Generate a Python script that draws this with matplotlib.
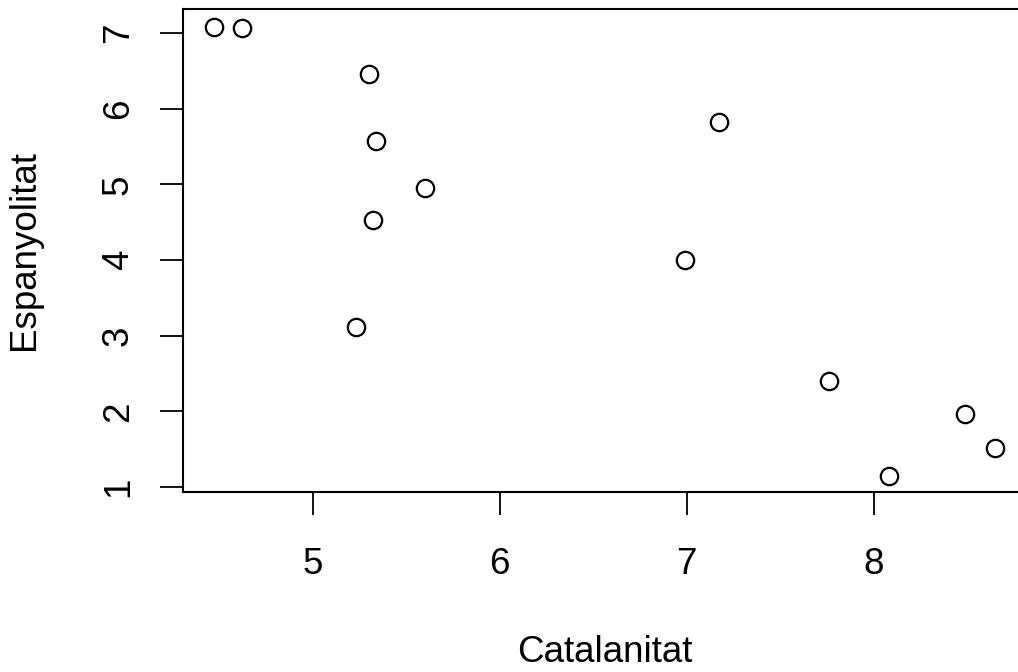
import numpy as np
import matplotlib.pyplot as plt

plt.rcParams['font.family'] = ['Liberation Sans', 'DejaVu Sans']

# values
catalanitat = [4.47, 4.62, 5.30, 5.34, 5.60, 5.32, 5.23, 7.17, 6.99, 7.76, 8.49, 8.65, 8.08]
espanyolitat = [7.08, 7.07, 6.46, 5.57, 4.95, 4.53, 3.11, 5.82, 4.00, 2.40, 1.97, 1.52, 1.15]
xticks = [5, 6, 7, 8]
yticks = [1, 2, 3, 4, 5, 6, 7]

fig = plt.figure(figsize=(10.18, 6.72), dpi=100)
# right edge of the box falls just past the image, like the reference
ax = fig.add_axes([183/1018, 1-492/672, 844/1018, 483/672])

ax.plot(catalanitat, espanyolitat, 'o', mfc='none', mec='black', ms=12.5, mew=1.6)

ax.set_xlim(4.305, 8.82)
ax.set_ylim(0.934, 7.317)
ax.set_xticks(xticks)
ax.set_yticks(yticks)
ax.set_yticklabels([str(v) for v in yticks], rotation=90, va='center')
ax.tick_params(direction='out', length=16.5, width=1.3, labelsize=26.5)
ax.tick_params(axis='x', pad=23)
ax.tick_params(axis='y', pad=17.5)
for s in ax.spines.values():
    s.set_linewidth(1.5)

ax.set_xlabel('Catalanitat', fontsize=26.5, labelpad=38)
ax.set_ylabel('Espanyolitat', fontsize=26.5, labelpad=42)

plt.savefig('out.png', dpi=100)
